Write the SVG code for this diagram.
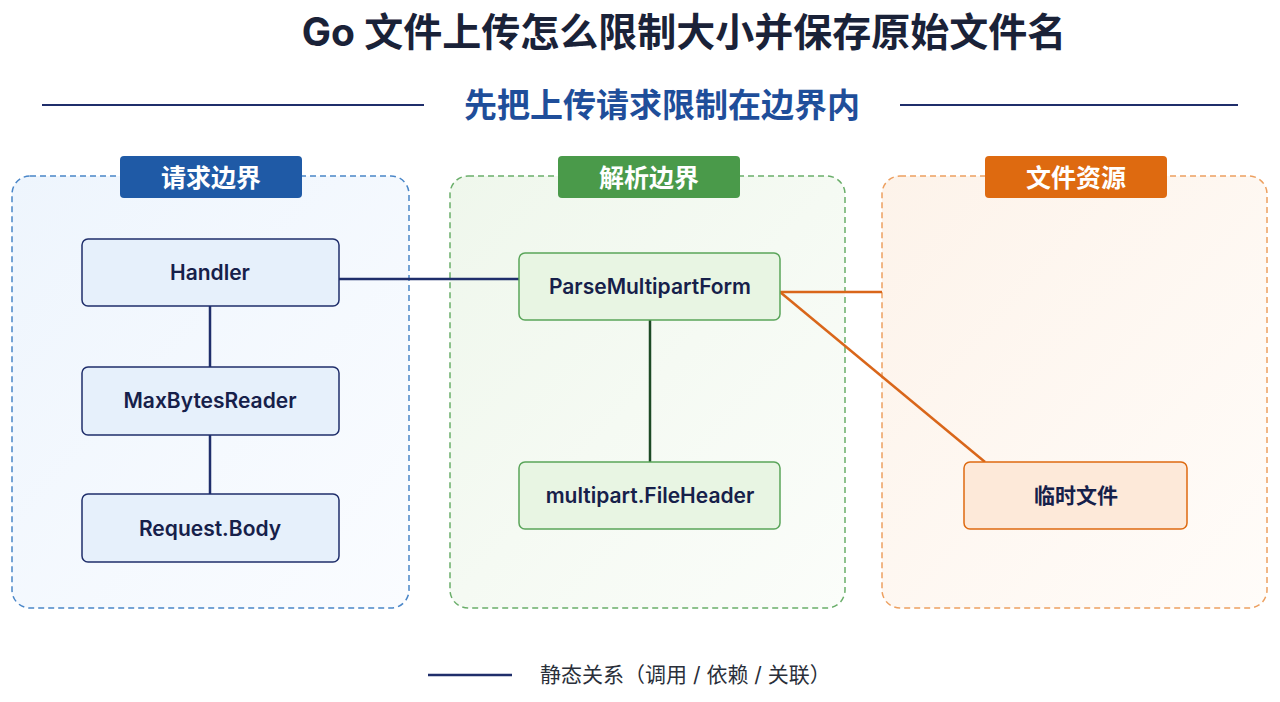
<svg xmlns="http://www.w3.org/2000/svg" width="1280" height="702" viewBox="0 0 1280 702">
<defs>
<style>
text{font-family:Inter,"Noto Sans CJK SC",sans-serif}
.t{font-weight:700;text-anchor:middle}
.node{font-size:21px;font-weight:600;text-anchor:middle;fill:#16204a}
.tag{font-size:25px;font-weight:700;fill:#fff;text-anchor:middle}
</style>
<linearGradient id="gb" x1="0" y1="0" x2="1" y2="1"><stop offset="0" stop-color="#eef5fd"/><stop offset="1" stop-color="#fafcff"/></linearGradient>
<linearGradient id="gg" x1="0" y1="0" x2="1" y2="1"><stop offset="0" stop-color="#eff7ec"/><stop offset="1" stop-color="#fbfdfa"/></linearGradient>
<linearGradient id="go" x1="0" y1="0" x2="1" y2="1"><stop offset="0" stop-color="#fdf3ea"/><stop offset="1" stop-color="#fffcf9"/></linearGradient>
</defs>
<rect width="1280" height="702" fill="#fff"/>
<text class="t" x="684" y="46" font-size="39" fill="#1a2238">Go 文件上传怎么限制大小并保存原始文件名</text>
<line x1="42" y1="105" x2="424" y2="105" stroke="#1f2e6b" stroke-width="2"/>
<line x1="900" y1="105" x2="1238" y2="105" stroke="#1f2e6b" stroke-width="2"/>
<text class="t" x="662" y="117" font-size="33" fill="#1f4e9a">先把上传请求限制在边界内</text>
<g id="panel-request">
<rect x="12" y="176" width="397" height="432" rx="18" fill="url(#gb)" stroke="#4a86c8" stroke-width="1.5" stroke-dasharray="6 4"/>
<rect x="120" y="156" width="182" height="42" rx="4" fill="#1f5aa6"/>
<text class="tag" x="211" y="187">请求边界</text>
</g>
<g id="panel-parse">
<rect x="450" y="176" width="395" height="432" rx="18" fill="url(#gg)" stroke="#6aae6a" stroke-width="1.5" stroke-dasharray="6 4"/>
<rect x="558" y="156" width="182" height="42" rx="4" fill="#4a9a4a"/>
<text class="tag" x="649" y="187">解析边界</text>
</g>
<g id="panel-file">
<rect x="882" y="176" width="385" height="432" rx="18" fill="url(#go)" stroke="#eda060" stroke-width="1.5" stroke-dasharray="6 4"/>
<rect x="985" y="156" width="182" height="42" rx="4" fill="#de6a10"/>
<text class="tag" x="1076" y="187">文件资源</text>
</g>
<g id="connectors" fill="none" stroke-width="2.5">
<line x1="339" y1="279" x2="519" y2="279" stroke="#1f2e6b"/>
<line x1="210" y1="306" x2="210" y2="367" stroke="#1f2e6b"/>
<line x1="210" y1="435" x2="210" y2="494" stroke="#1f2e6b"/>
<line x1="650" y1="320" x2="650" y2="462" stroke="#1d4a25"/>
<line x1="780" y1="292" x2="882" y2="292" stroke="#d9661a"/>
<line x1="780" y1="292" x2="985" y2="462" stroke="#d9661a"/>
</g>
<g id="n-handler"><rect x="82" y="239" width="257" height="67" rx="6" fill="#e6f0fb" stroke="#1f2e6b" stroke-width="1.5"/><text class="node" x="210" y="280">Handler</text></g>
<g id="n-maxbytes"><rect x="82" y="367" width="257" height="68" rx="6" fill="#e6f0fb" stroke="#1f2e6b" stroke-width="1.5"/><text class="node" x="210" y="408">MaxBytesReader</text></g>
<g id="n-body"><rect x="82" y="494" width="257" height="68" rx="6" fill="#e6f0fb" stroke="#1f2e6b" stroke-width="1.5"/><text class="node" x="210" y="536">Request.Body</text></g>
<g id="n-parse"><rect x="519" y="253" width="261" height="67" rx="6" fill="#e8f5e3" stroke="#5aa55a" stroke-width="1.5"/><text class="node" x="650" y="294" fill="#152a18">ParseMultipartForm</text></g>
<g id="n-fileheader"><rect x="519" y="462" width="261" height="67" rx="6" fill="#e8f5e3" stroke="#5aa55a" stroke-width="1.5"/><text class="node" x="650" y="503" fill="#152a18">multipart.FileHeader</text></g>
<g id="n-temp"><rect x="964" y="462" width="223" height="67" rx="6" fill="#fde9d9" stroke="#de6a10" stroke-width="1.5"/><text class="node" x="1076" y="503" fill="#2a1a10">临时文件</text></g>
<g id="legend">
<line x1="428" y1="675" x2="512" y2="675" stroke="#1f2e6b" stroke-width="2.5"/>
<text x="540" y="682" font-size="21" fill="#2a2f3a">静态关系（调用 / 依赖 / 关联）</text>
</g>
</svg>
